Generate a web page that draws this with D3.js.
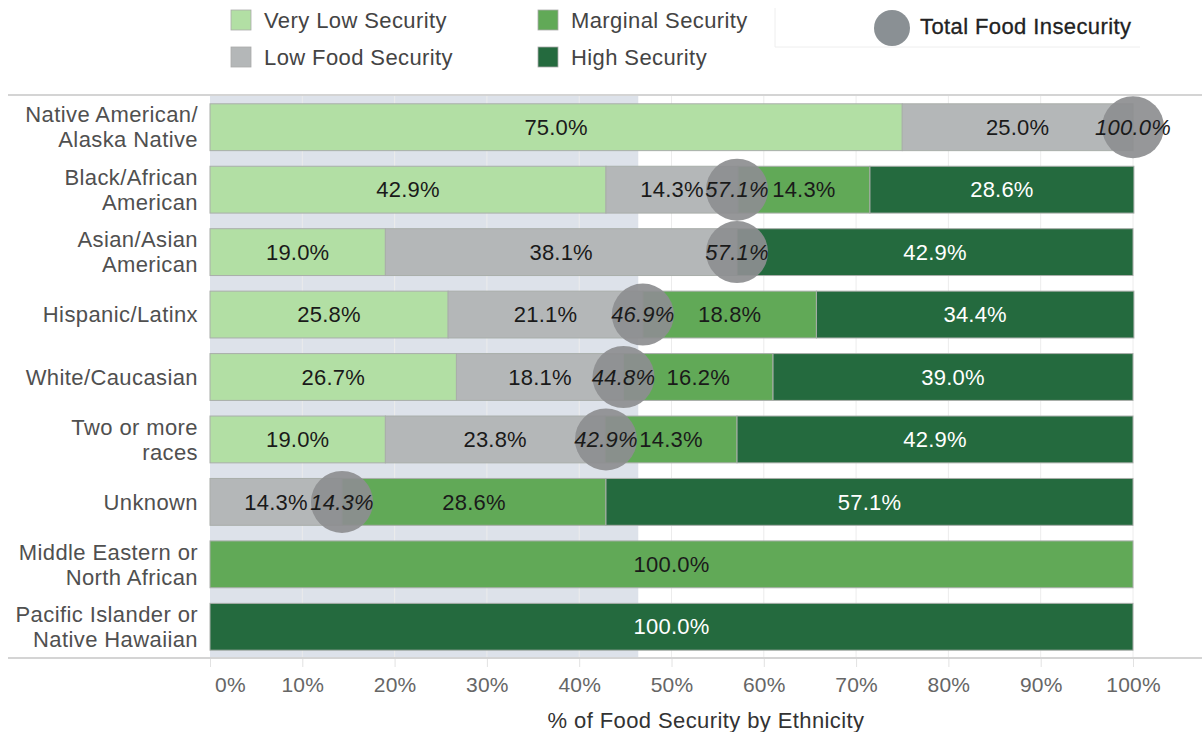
<!DOCTYPE html>
<html><head><meta charset="utf-8">
<script src="https://cdn.jsdelivr.net/npm/d3@7"></script>
<style>
body{margin:0;background:#fff;}
text{font-family:"Liberation Sans",Arial,sans-serif;}
</style></head>
<body>
<svg id="c" width="1202" height="732"></svg>
<script>
const categories = [
  ["Native American/","Alaska Native"],
  ["Black/African","American"],
  ["Asian/Asian","American"],
  ["Hispanic/Latinx"],
  ["White/Caucasian"],
  ["Two or more","races"],
  ["Unknown"],
  ["Middle Eastern or","North African"],
  ["Pacific Islander or","Native Hawaiian"]
];
const seriesNames = ["Very Low Security","Low Food Security","Marginal Security","High Security"];
const veryLow  = [75.0, 42.9, 19.0, 25.8, 26.7, 19.0, 0,    0,     0];
const lowFood  = [25.0, 14.3, 38.1, 21.1, 18.1, 23.8, 14.3, 0,     0];
const marginal = [0,    14.3, 0,    18.8, 16.2, 14.3, 28.6, 100.0, 0];
const high     = [0,    28.6, 42.9, 34.4, 39.0, 42.9, 57.1, 0,     100.0];
const totalInsecurity = [100.0, 57.1, 57.1, 46.9, 44.8, 42.9, 14.3, null, null];
const averageInsecurity = 46.4;
const xTicks = [0,10,20,30,40,50,60,70,80,90,100];

const colors = ["#b2dfa4","#b4b7b8","#61a957","#246a3e"];
const textColors = ["#1a1a1a","#1a1a1a","#1a1a1a","#ffffff"];

const svg = d3.select("#c");
const W = 1202, H = 732;
const FS = 22, LS = 0.4;
const plotTop = 96, plotBottom = 658;
const x = d3.scaleLinear().domain([0,100]).range([210,1133]);
const y = d3.scaleBand().domain(d3.range(categories.length)).range([plotTop, plotBottom]).paddingInner(0.25).paddingOuter(0.125);

// average band
svg.append("rect").attr("x", x(0)).attr("y", plotTop).attr("width", x(averageInsecurity)-x(0)).attr("height", plotBottom-plotTop).attr("fill","#dde2ea");

// grid lines
svg.append("g").selectAll("line").data(xTicks.slice(1)).join("line")
  .attr("x1", d=>x(d)).attr("x2", d=>x(d)).attr("y1", plotTop).attr("y2", plotBottom)
  .attr("stroke", "#ececec").attr("stroke-width",1);

// frame lines
svg.append("line").attr("x1",8).attr("x2",W).attr("y1",plotTop-1).attr("y2",plotTop-1).attr("stroke","#d4d4d4").attr("stroke-width",2);
svg.append("line").attr("x1",8).attr("x2",W).attr("y1",plotBottom).attr("y2",plotBottom).attr("stroke","#d4d4d4").attr("stroke-width",2);

// axis
const axis = d3.axisBottom(x).tickValues(xTicks).tickFormat(d=>d+"%").tickSize(8).tickPadding(7);
const ax = svg.append("g").attr("transform",`translate(0,${plotBottom+1})`).call(axis);
ax.select(".domain").remove();
ax.selectAll(".tick line").attr("stroke","#e2e2e2");
ax.selectAll(".tick text").attr("font-size",21).attr("fill","#666").attr("letter-spacing",0.2).attr("dy","0.85em").attr("dx", d=> d===0 ? 20 : 0);
svg.append("text").attr("x", (x(0)+W)/2).attr("y", 728).attr("text-anchor","middle").attr("font-size",FS).attr("letter-spacing",LS).attr("fill","#333").text("% of Food Security by Ethnicity");

// category labels
const cl = svg.append("g");
categories.forEach((lines,i)=>{
  const cy = y(i)+y.bandwidth()/2;
  const t = cl.append("text").attr("text-anchor","end").attr("font-size",FS).attr("letter-spacing",LS).attr("fill","#505050");
  lines.forEach((ln,j)=>{
    t.append("tspan").attr("x",198).attr("y", cy + (j - (lines.length-1)/2)*25).attr("dy","0.35em").text(ln);
  });
});

// stacked bars
const series = [veryLow, lowFood, marginal, high];
const rows = categories.map((c,i)=>{
  let acc = 0;
  return series.map((s,k)=>{ const v = s[i]; const seg = {i,k,v,x0:acc,x1:acc+v}; acc += v; return seg; });
});
const segs = rows.flat().filter(d=>d.v>0);
const bars = svg.append("g");
bars.selectAll("rect").data(segs).join("rect")
  .attr("x", d=>x(d.x0)).attr("y", d=>y(d.i)).attr("width", d=>x(d.x1)-x(d.x0)).attr("height", y.bandwidth())
  .attr("fill", d=>colors[d.k]).attr("stroke","#a9aeaa").attr("stroke-width",1);
bars.selectAll("text").data(segs).join("text")
  .attr("x", d=>(x(d.x0)+x(d.x1))/2).attr("y", d=>y(d.i)+y.bandwidth()/2).attr("dy","0.35em")
  .attr("text-anchor","middle").attr("font-size",FS).attr("letter-spacing",0.2).attr("fill", d=>textColors[d.k])
  .text(d=>d.v.toFixed(1)+"%");

// total circles
const tot = totalInsecurity.map((v,i)=>({v,i})).filter(d=>d.v!==null);
const cg = svg.append("g");
cg.selectAll("circle").data(tot).join("circle")
  .attr("cx", d=>x(d.v)).attr("cy", d=>y(d.i)+y.bandwidth()/2).attr("r",31)
  .attr("fill","#8d8e90").attr("fill-opacity",0.92);
cg.selectAll("text").data(tot).join("text")
  .attr("x", d=>x(d.v)).attr("y", d=>y(d.i)+y.bandwidth()/2).attr("dy","0.35em")
  .attr("text-anchor","middle").attr("font-size",FS).attr("letter-spacing",0.2).attr("font-style","italic").attr("fill","#1a1a1a")
  .text(d=>d.v.toFixed(1)+"%");

// legend
const leg = svg.append("g");
const legPos = [[231,10],[231,47],[538,10],[538,47]];
seriesNames.forEach((n,k)=>{
  const [lx,ly] = legPos[k];
  leg.append("rect").attr("x",lx).attr("y",ly).attr("width",20).attr("height",20).attr("fill",colors[k]).attr("stroke","#aaa").attr("stroke-width",0.8);
  leg.append("text").attr("x",lx+33).attr("y",ly+10).attr("dy","0.35em").attr("font-size",FS).attr("letter-spacing",LS).attr("fill","#444").text(n);
});
leg.append("line").attr("x1",775).attr("x2",775).attr("y1",8).attr("y2",47).attr("stroke","#eeeeee");
leg.append("line").attr("x1",775).attr("x2",1140).attr("y1",47).attr("y2",47).attr("stroke","#eeeeee");
leg.append("circle").attr("cx",892).attr("cy",28).attr("r",18).attr("fill","#8a9094");
leg.append("text").attr("x",920).attr("y",26).attr("dy","0.35em").attr("font-size",FS).attr("letter-spacing",LS).attr("fill","#222").attr("stroke","#222").attr("stroke-width",0.3).text("Total Food Insecurity");
</script>
</body></html>
